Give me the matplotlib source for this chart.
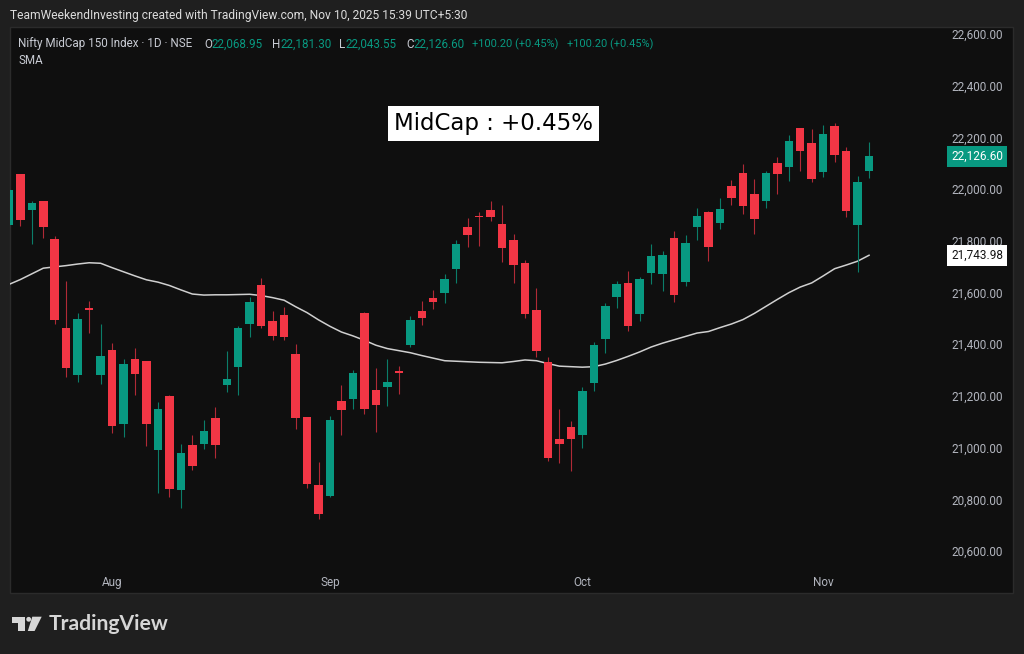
import matplotlib
matplotlib.use("Agg")
import matplotlib.pyplot as plt
import matplotlib.patches as mpatches
import matplotlib.transforms as mtransforms
import numpy as np
import pandas as pd

# --- data (Nifty MidCap 150, daily) ---
holidays = ["2025-08-15", "2025-08-27", "2025-10-02", "2025-10-22", "2025-11-05"]
dates = pd.bdate_range("2025-07-21", "2025-11-10")
dates = dates[~dates.isin(pd.to_datetime(holidays))]

opens = [21861, 22057, 21919, 21953, 21808, 21464, 21280, 21539, 21280, 21378,
         21090, 21344, 21335, 20991, 21201, 20835, 21009, 21015, 21116, 21243,
         21311, 21477, 21629, 21489, 21513, 21362, 21117, 20856, 20812, 21182,
         21188, 21522, 21222, 21235, 21295, 21397, 21529, 21578, 21597, 21691,
         21853, 21897, 21918, 21864, 21804, 21713, 21531, 21331, 21033, 21080,
         21050, 21250, 21419, 21584, 21636, 21517, 21676, 21671, 21811, 21642,
         21855, 21911, 21869, 22013, 22062, 21982, 21955, 22100, 22084, 22235,
         22180, 22066, 22244, 22149, 21860, 22068.95]
highs = [22004, 22060, 21955, 21954, 21817, 21645, 21520, 21568, 21478, 21405,
         21342, 21385, 21336, 21178, 21205, 21013, 21049, 21107, 21156, 21374,
         21472, 21583, 21657, 21529, 21544, 21400, 21120, 20945, 21121, 21242,
         21300, 21525, 21308, 21343, 21316, 21509, 21567, 21609, 21673, 21802,
         21888, 21911, 21953, 21940, 21826, 21727, 21618, 21352, 21150, 21103,
         21236, 21409, 21560, 21646, 21682, 21661, 21787, 21759, 21838, 21821,
         21927, 21915, 21967, 22035, 22097, 22039, 22070, 22125, 22209, 22237,
         22234, 22248, 22255, 22162, 22051, 22181.30]
lows = [21853, 21858, 21787, 21812, 21477, 21274, 21255, 21442, 21246, 21056,
        21042, 21204, 21008, 20826, 20810, 20765, 20915, 20995, 20961, 21215,
        21204, 21428, 21464, 21415, 21415, 21071, 20845, 20725, 20810, 21048,
        21151, 21129, 21062, 21161, 21209, 21391, 21473, 21537, 21560, 21638,
        21775, 21781, 21878, 21719, 21636, 21502, 21352, 20948, 20942, 20909,
        21000, 21218, 21366, 21541, 21450, 21490, 21634, 21606, 21563, 21626,
        21803, 21723, 21847, 21940, 21904, 21828, 21928, 21980, 22030, 22069,
        22026, 22048, 22106, 21893, 21679, 22043.55]
closes = [21997, 21879, 21946, 21852, 21495, 21309, 21498, 21534, 21356, 21084,
          21325, 21284, 21090, 21148, 20841, 20979, 20930, 21066, 21010, 21264,
          21464, 21562, 21471, 21433, 21428, 21115, 20859, 20743, 21107, 21145,
          21289, 21151, 21166, 21253, 21290, 21495, 21502, 21563, 21653, 21787,
          21824, 21893, 21893, 21771, 21708, 21517, 21375, 20961, 21013, 21032,
          21219, 21396, 21547, 21632, 21471, 21651, 21740, 21744, 21590, 21792,
          21896, 21777, 21922, 21964, 21935, 21886, 22062, 22057, 22187, 22149,
          22038, 22213, 22131, 21917, 22026.40, 22126.60]
sma = [21631, 21650, 21672, 21694, 21699, 21704, 21710, 21715, 21713, 21696,
       21680, 21664, 21649, 21640, 21627, 21610, 21594, 21590, 21591, 21591,
       21592, 21593, 21588, 21580, 21570, 21545, 21522, 21494, 21469, 21447,
       21432, 21415, 21396, 21383, 21375, 21367, 21356, 21346, 21336, 21334,
       21332, 21330, 21329, 21328, 21333, 21339, 21336, 21325, 21315, 21313,
       21311, 21313, 21323, 21337, 21353, 21370, 21389, 21404, 21417, 21430,
       21443, 21449, 21464, 21478, 21495, 21519, 21546, 21573, 21599, 21621,
       21637, 21664, 21692, 21706, 21721, 21743.98]
price_ticks = [20600, 20800, 21000, 21200, 21400, 21600, 21800, 22000, 22200, 22400, 22600]

UP = "#089981"
DOWN = "#f23645"
UI = "Roboto"

o = np.array(opens)
h = np.array(highs)
l = np.array(lows)
c = np.array(closes)
x = np.arange(len(c))
up = c >= o

fig = plt.figure(figsize=(10.24, 6.54), dpi=100, facecolor="#1f1f1f")

# background layer in pixel coords
bg = fig.add_axes([0, 0, 1, 1], zorder=0)
bg.set_xlim(0, 1024)
bg.set_ylim(654, 0)
bg.axis("off")
bg.add_patch(mpatches.Rectangle((10, 27), 1003, 566, facecolor="#0f0f0f",
                                edgecolor="#2b2b2b", lw=1))

# main price axes
ax = fig.add_axes([10 / 1024, 87 / 654, 925 / 1024, 540 / 654], zorder=1)
ax.set_facecolor("none")
ax.plot(x, sma, color="#d0d0d0", lw=1.1, zorder=2)

body_col = np.where(up, UP, DOWN)
wick_col = np.where(up, "#0b7d6a", "#b02a36")
ax.vlines(x, l, h, colors=wick_col, lw=0.8, zorder=3)
bottom = np.minimum(o, c)
height = np.maximum(np.abs(c - o), 4)
ax.bar(x, height, bottom=bottom, width=0.74, color=body_col, zorder=4, lw=0)

ax.set_xlim(0.1, 80.75)
ax.set_ylim(20538, 22627)
for s in ax.spines.values():
    s.set_visible(False)

# month ticks
months = pd.Series(dates.month)
first = [i for i in range(len(dates)) if i > 0 and months[i] != months[i - 1]]
ax.set_xticks(first)
ax.set_xticklabels([dates[i].strftime("%b") for i in first])
ax.tick_params(axis="x", length=0, pad=6.5, labelsize=8.5, labelcolor="#b2b5be")
for t in ax.get_xticklabels():
    t.set_fontfamily(UI)

ax.yaxis.tick_right()
ax.set_yticks(price_ticks)
ax.set_yticklabels([f"{v:,.2f}" for v in price_ticks])
ax.tick_params(axis="y", length=0, pad=49, labelsize=8.5, labelcolor="#b2b5be")
for t in ax.get_yticklabels():
    t.set_horizontalalignment("right")
    t.set_fontfamily(UI)

# price labels on the scale
tr = mtransforms.blended_transform_factory(ax.transAxes, ax.transData)
ax.text(1.0735, closes[-1], f"{closes[-1]:,.2f}", transform=tr, ha="right", va="center",
        fontsize=8.5, family=UI, color="white", clip_on=False,
        bbox=dict(boxstyle="square,pad=0.32", fc=UP, ec="none"))
ax.text(1.0735, sma[-1], f"{sma[-1]:,.2f}", transform=tr, ha="right", va="center",
        fontsize=8.5, family=UI, color="#131313", clip_on=False,
        bbox=dict(boxstyle="square,pad=0.32", fc="white", ec="none"))

# header
bg.text(10, 15, "TeamWeekendInvesting created with TradingView.com, Nov 10, 2025 15:39 UTC+5:30",
        fontsize=8.65, family=UI, color="#dcdcdc", va="center", ha="left")

chg = closes[-1] - closes[-2]
pct = chg / closes[-2] * 100
gray = "#c9ccd4"
fs = 8.4
bg.text(18.3, 44, "Nifty MidCap 150 Index · 1D · NSE", color=gray, fontsize=fs,
        family=UI, va="center", ha="left")
ohlc = [("O", opens[-1], 204), ("H", highs[-1], 272), ("L", lows[-1], 339),
        ("C", closes[-1], 406)]
for letter, val, px in ohlc:
    t = bg.text(px, 44, letter, color=gray, fontsize=fs, family=UI, va="center", ha="left")
    last = bg.annotate(f"{val:,.2f}", xy=(1, 0.5), xycoords=t, va="center", ha="left",
                       color=UP, fontsize=fs, family=UI)
for gap in (7, 9):
    last = bg.annotate(f"+{chg:.2f} (+{pct:.2f}%)", xy=(1, 0.5), xycoords=last,
                       xytext=(gap, 0), textcoords="offset pixels", va="center",
                       ha="left", color=UP, fontsize=7.9, family=UI)
bg.text(18.3, 60, "SMA", color=gray, fontsize=fs, family=UI, va="center", ha="left")

# annotation box
bg.text(493.5, 123.3, f"MidCap : +{pct:.2f}%", fontsize=16.5, family="DejaVu Sans",
        color="black", ha="center", va="center",
        bbox=dict(boxstyle="square,pad=0.27", fc="white", ec="none"))

# TradingView logo
logo = "#d6d6d6"
bg.add_patch(mpatches.Polygon([(12.3, 616.7), (25, 616.7), (25, 631), (18.3, 631),
                               (18.3, 623.3), (12.3, 623.3)], closed=True, fc=logo, ec="none"))
bg.add_patch(mpatches.Circle((28.7, 619.3), 2.4, fc=logo, ec="none"))
bg.add_patch(mpatches.Polygon([(32.3, 616.7), (41.7, 616.7), (34.6, 631), (27.8, 631)],
                              closed=True, fc=logo, ec="none"))
bg.text(48.5, 624, "TradingView", fontsize=15.2, family="Lato", fontweight="bold",
        color=logo, ha="left", va="center")

fig.savefig("out.png", dpi=100, facecolor=fig.get_facecolor())
